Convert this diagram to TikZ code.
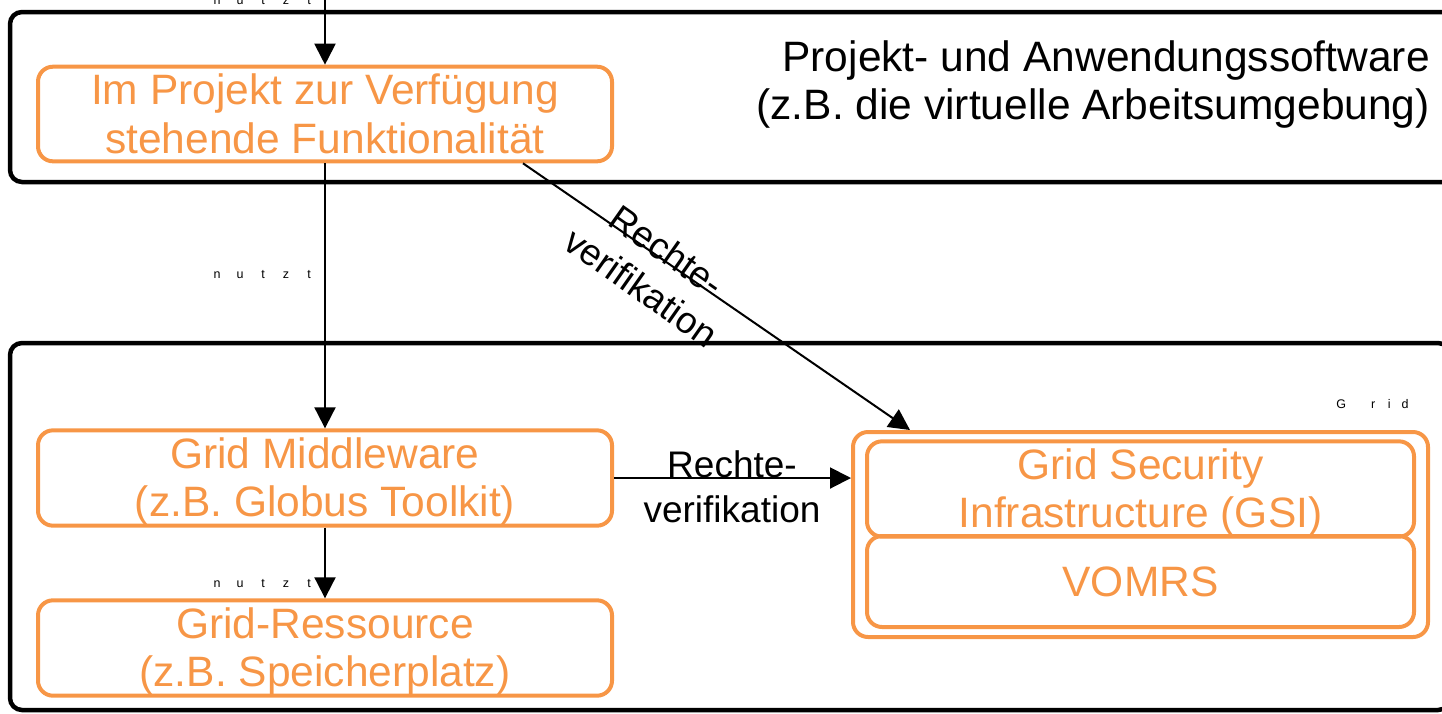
\documentclass[tikz,border=0pt]{standalone}
\usepackage{fontspec}
\setmainfont{Liberation Sans}
\usetikzlibrary{arrows.meta,calc}
\definecolor{ora}{RGB}{247,150,70}
\newcommand{\tstr}{\rule{0pt}{0.9em}}
\newcommand{\bstr}{\rule[-0.19em]{0pt}{0.19em}}
\newcommand{\spc}[2]{\makebox[#1pt][c]{#2}}
\begin{document}
\begin{tikzpicture}[x=1pt,y=-1pt,
  blackbox/.style={draw=black, line width=4.5pt, rounded corners=12pt, inner sep=0pt},
  obox/.style={draw=ora, line width=4pt, rounded corners=15pt, text=ora, inner sep=0pt, align=center, font=\fontsize{42.5}{48.3}\selectfont},
  arr/.style={draw=black, line width=2pt, -{Triangle[width=21pt,length=21pt]}},
  lbl/.style={inner sep=0pt, align=center, font=\fontsize{37}{45}\selectfont},
  big/.style={inner sep=0pt, font=\fontsize{42.5}{48.3}\selectfont},
  tinylbl/.style={inner sep=0pt, font=\fontsize{12.5}{14}\selectfont}
]
\useasboundingbox (0,0) rectangle (1442,713);
\clip (0,0) rectangle (1442,713);

% containers
\node[blackbox, minimum width=1460pt, minimum height=170pt] (projsw) at (740,97) {};
\node[blackbox, minimum width=1440pt, minimum height=367pt] (gridbox) at (730,526.5) {};

\node[big, anchor=north east, align=right] (projlbl) at (1430,32.75)
  {\tstr Projekt- und Anwendungssoftware\\(z.B. die virtuelle Arbeitsumgebung)};
\node[tinylbl, anchor=base west] (gridlbl) at (1317,408)
  {\spc{48}{G}\spc{16}{r}\spc{16}{i}\spc{16}{d}};

% orange boxes
\node[obox, minimum width=574pt, minimum height=92pt] (box1) at (325,114)
  {\tstr Im Projekt zur Verfügung\\stehende Funktionalität\bstr};
\node[obox, minimum width=574pt, minimum height=92pt] (mid) at (325,478)
  {\tstr Grid Middleware\\(z.B. Globus Toolkit)\bstr};
\node[obox, minimum width=574pt, minimum height=92pt] (res) at (325,648)
  {\tstr Grid-Ressource\\(z.B. Speicherplatz)\bstr};
\node[obox, minimum width=575pt, minimum height=205pt] (gsiouter) at (1140.5,534.5) {};
\node[obox, minimum width=547pt, minimum height=94pt] (gsi) at (1140.5,489)
  {\tstr Grid Security\\Infrastructure (GSI)\bstr};
\node[obox, minimum width=547pt, minimum height=91pt] (vomrs) at (1140.5,581.5)
  {\tstr VOMRS\bstr};

% connectors
\coordinate (topin) at (325,-5);
\draw[arr] (topin) -- (box1.north);
\draw[arr] (box1.south) -- (mid.north);
\draw[arr] (mid.south) -- (res.north);
\draw[arr] (mid.east) -- (mid.east -| gsiouter.west);
\draw[arr] ($(box1.south west)+(487,0)$) -- ($(gsiouter.north west)+(59,0)$);

% labels
\node[tinylbl, anchor=base] (n1) at (263,4) {\spc{23}{n}\spc{23}{u}\spc{23}{t}\spc{23}{z}\spc{23}{t}};
\node[tinylbl, anchor=base] (n2) at (263,278) {\spc{23}{n}\spc{23}{u}\spc{23}{t}\spc{23}{z}\spc{23}{t}};
\node[tinylbl, anchor=base] (n3) at (263,587) {\spc{23}{n}\spc{23}{u}\spc{23}{t}\spc{23}{z}\spc{23}{t}};
\node[lbl, anchor=north] (rv1) at (732,443.7) {\tstr Rechte-\\verifikation\bstr};
\node[lbl, rotate=-35.1] (rv2) at (654.5,269) {\tstr Rechte-\\verifikation\bstr};
\end{tikzpicture}
\end{document}
